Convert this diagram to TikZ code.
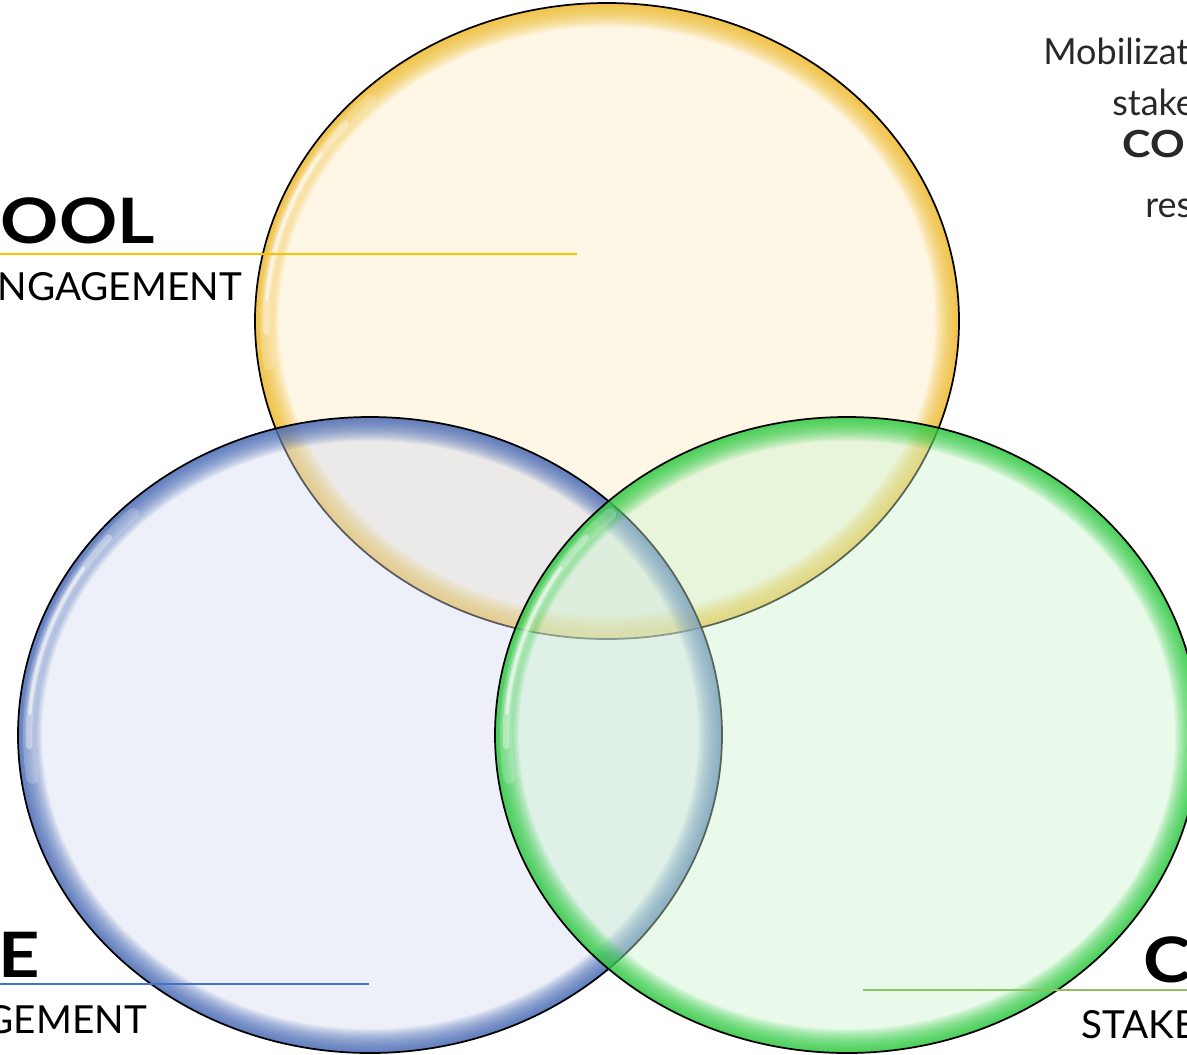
\documentclass[tikz,border=0pt]{standalone}
\usepackage{fontspec}
\setmainfont{Lato}
\newfontfamily\headfont{Lato}[FakeStretch=1.15]
\usetikzlibrary{positioning}
\definecolor{ylw-fill}{RGB}{253,235,193}
\definecolor{ylw-rim}{RGB}{238,185,35}
\definecolor{blu-fill}{RGB}{212,219,239}
\definecolor{blu-rim}{RGB}{62,98,178}
\definecolor{grn-fill}{RGB}{204,244,206}
\definecolor{grn-rim}{RGB}{35,200,55}
\definecolor{ylw-line}{RGB}{255,192,0}
\definecolor{blu-line}{RGB}{68,114,196}
\definecolor{grn-line}{RGB}{140,196,100}
\definecolor{darktext}{RGB}{40,40,40}
\begin{document}
\begin{tikzpicture}[x=0.75pt,y=-0.75pt,
    head/.style={inner sep=0pt,font=\fontsize{47}{47}\headfont\bfseries},
    sub/.style={inner sep=0pt,font=\fontsize{29}{29}\selectfont},
    note/.style={inner sep=0pt,text=darktext,font=\fontsize{27}{27}\selectfont},
    rule/.style={line width=1.4pt},
    shine/.style={white, line width=#1, line cap=round}]
  \useasboundingbox (0,0) rectangle (1187,1054);
  \clip (0,0) rectangle (1187,1054);
  \foreach \cx/\cy/\col in {607/321/ylw, 370/735/blu, 847/735/grn}{
    \begin{scope}
      \clip (\cx,\cy) ellipse [x radius=352, y radius=318];
      \fill[\col-fill, fill opacity=0.42] (\cx,\cy) ellipse [x radius=352, y radius=318];
      \foreach \i in {1,...,20}
        \draw[\col-rim, line width=\i*1.8pt, draw opacity=0.07]
          (\cx,\cy) ellipse [x radius=352, y radius=318];
    \end{scope}
    \draw[shine=9, draw opacity=0.2] (\cx,\cy) ++(172:341 and 307)
      arc [start angle=172, end angle=226, x radius=341, y radius=307];
    \draw[shine=5, draw opacity=0.35] (\cx,\cy) ++(178:341 and 307)
      arc [start angle=178, end angle=220, x radius=341, y radius=307];
    \draw[shine=2.5, draw opacity=0.55] (\cx,\cy) ++(184:341 and 307)
      arc [start angle=184, end angle=213, x radius=341, y radius=307];
    \draw[line width=1.3pt] (\cx,\cy) ellipse [x radius=352, y radius=318];
  }
  % labels
  \node[head, anchor=base east] (school) at (155,243) {SCHOOL};
  \node[sub, anchor=base east] (schoolsub) at (242,300) {ENGAGEMENT};
  \node[head, anchor=base east] (home) at (40,977) {HOME};
  \node[sub, anchor=base east] (homesub) at (147,1033) {ENGAGEMENT};
  \node[head, anchor=base west] (comm) at (1143,982) {COMMUNITY};
  \node[sub, anchor=base west] (commsub) at (1081,1038) {STAKEHOLDERS};
  \coordinate (ya) at (0,254);   \coordinate (yb) at (577,254);
  \coordinate (ba) at (0,984);   \coordinate (bb) at (369,984);
  \coordinate (ga) at (863,990); \coordinate (gb) at (1187,990);
  \draw[rule, ylw-line] (ya) -- (yb);
  \draw[rule, blu-line] (ba) -- (bb);
  \draw[rule, grn-line] (ga) -- (gb);
  % top right note
  \node[note, anchor=base west] (n1) at (1043,64) {Mobilization of};
  \node[note, anchor=base west] (n2) at (1112,115) {stakeholders};
  \node[note, anchor=base west, font=\fontsize{28}{28}\headfont\bfseries] (n3) at (1122,157) {COMMUNITY};
  \node[note, anchor=base west] (n4) at (1145,217) {resources};
\end{tikzpicture}
\end{document}
